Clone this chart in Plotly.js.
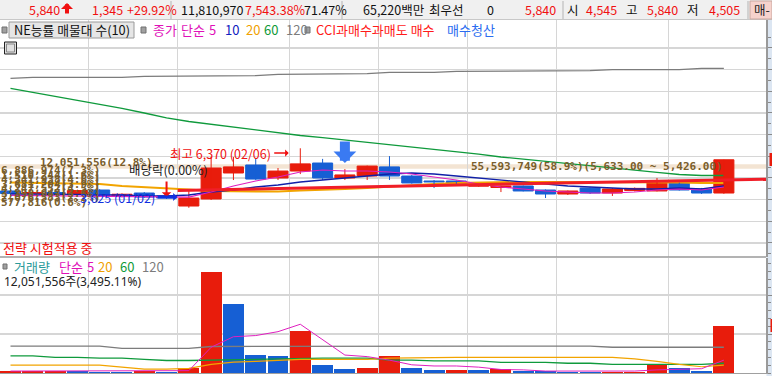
<!DOCTYPE html>
<html>
<head>
<meta charset="utf-8">
<script src="https://cdn.plot.ly/plotly-3.0.1.min.js"></script>
<style>
html,body{margin:0;padding:0;background:#ffffff;overflow:hidden;}
#chart{width:772px;height:376px;}
</style>
</head>
<body>
<div id="chart"></div>
<script>
// ---------------- data (weekly candles) ----------------
const weeks = ['2022-11-07','2022-11-14','2022-11-21','2022-11-28','2022-12-05','2022-12-12','2022-12-19','2022-12-26',
  '2023-01-02','2023-01-09','2023-01-16','2023-01-23','2023-01-30','2023-02-06','2023-02-13','2023-02-20','2023-02-27',
  '2023-03-06','2023-03-13','2023-03-20','2023-03-27','2023-04-03','2023-04-10','2023-04-17','2023-04-24',
  '2023-05-01','2023-05-08','2023-05-15','2023-05-22','2023-05-29','2023-06-05','2023-06-12','2023-06-19'];
const openP  = [4400,4280,4330,4250,4445,4170,4305,4170,3705,4030,5230,5600,5000,5320,5690,5000,5090,5510,5090,4860,4860,4620,4560,4630,4445,4260,4535,4305,4420,4400,4770,4490,4305];
const highP  = [4520,4400,4450,4460,4480,4290,4350,4200,4445,5970,5970,5880,5460,6370,5880,5410,5570,6010,5140,4905,4880,4720,4640,4650,4470,4420,4560,4535,4560,5000,4790,4540,5840];
const lowP   = [4210,4150,4200,4150,4120,4100,4075,4030,3625,3985,4905,4905,4905,5180,4905,4905,4905,4905,4740,4535,4700,4600,4350,4380,4075,4215,4260,4170,4380,4380,4420,4260,4270];
const closeP = [4280,4330,4250,4420,4170,4250,4120,4075,4075,5460,5510,4950,5320,5650,5000,5140,5550,5090,4770,4815,4720,4680,4630,4400,4260,4400,4305,4490,4520,4770,4445,4305,5840];
const volume = [500000,520000,540000,400000,350000,300000,420000,300000,1300000,25900000,17700000,4600000,4400000,10800000,
  2000000,1000000,1300000,4400000,1300000,780000,820000,760000,1000000,520000,430000,380000,330000,350000,380000,2300000,1300000,500000,12051556];

// price moving averages (5,10,20,60,120)
const ma5   = [4200,4190,4180,4170,4170,4160,4150,4140,4120,4352,4629,4860,5045,5275,5368,5321,5321,5275,5183,5045,4906,4722,4583,4491,4399,4352,4306,4306,4352,4445,4491,4445,4583];
const ma10  = [4260,4260,4250,4240,4214,4214,4168,4168,4214,4352,4445,4583,4675,4814,4906,4999,5091,5183,5229,5183,5091,4999,4906,4814,4722,4629,4583,4537,4491,4491,4537,4491,4629];
const ma20  = [4791,4768,4768,4745,4722,4629,4583,4537,4468,4399,4399,4376,4376,4422,4445,4491,4537,4606,4675,4722,4768,4791,4814,4814,4814,4814,4814,4814,4814,4814,4791,4768,4768];
const ma60  = [9138,8958,8783,8603,8418,8211,7998,7777,7606,7472,7343,7214,7080,6960,6858,6752,6646,6545,6438,6337,6222,6097,5968,5862,5755,5654,5552,5451,5359,5262,5160,5114,5114];
const ma120 = [9600,9646,9646,9646,9646,9646,9692,9692,9692,9692,9720,9720,9784,9784,9812,9812,9812,9877,9877,9877,9923,9923,9923,9950,9950,9950,9950,9997,9997,9997,9997,10061,10061];

// volume moving averages (5,20,60,120), millions of shares
const vma5   = [0.5,0.5,0.5,0.48,0.45,0.45,0.45,0.45,0.6,6.6,9.3,9.6,10.6,12.5,8.5,4.6,4.2,3.3,2.1,1.8,1.8,1.5,0.9,0.8,0.5,0.5,0.5,0.5,0.5,0.8,0.9,1.1,3.3];
const vma20  = [2.0,2.0,2.0,2.0,2.0,1.5,1.0,1.0,1.2,2.2,2.8,3.0,3.3,3.5,3.5,3.5,3.5,3.8,3.9,4.0,4.0,4.0,4.0,4.0,4.0,4.0,4.0,4.0,3.6,3.0,2.2,1.6,2.0];
const vma60  = [4.4,4.4,4.0,4.0,3.8,3.8,3.5,3.2,3.2,3.3,3.5,3.6,3.7,3.8,3.8,3.8,3.8,3.3,3.3,3.1,3.1,3.1,2.7,2.7,2.7,2.5,2.5,2.2,2.2,2.2,2.2,2.2,2.5];
const vma120 = [6.9,6.9,6.9,6.9,6.9,6.3,6.3,6.3,6.3,6.8,6.8,6.8,6.9,6.9,6.9,6.9,6.9,6.9,6.9,6.9,6.9,6.9,6.9,6.9,6.9,6.9,6.9,6.6,6.6,6.6,6.6,6.6,6.6];

// rising red line (trend)
const trendX = [7.5, 34.2];
const trendY = [4422, 4952];

// volume profile (10 bins, 3770 ~ 5840)
const profileMid    = [3873,4080,4287,4494,4701,4908,5115,5322,5529,5736];
const profileLabels = ['577,816(0.6%)','2,076,583(2.2%)','3,398,047(3.6%)','4,247,552(4.5%)','3,681,204(3.9%)',
  '4,341,938(4.6%)','1,510,244(1.6%)','6,886,974(7.3%)','55,593,749(58.9%)(5,633.00 ~ 5,426.00)','12,051,556(12.8%)'];
const profileMaxLow = 5426, profileMaxHigh = 5633;

// signals
const exDivIdx = 7, exDivLabel = '배당락(0.00%)';
const highIdx = 13, highLabel = '최고 6,370 (02/06)';
const lowIdx = 8, lowLabel = '3,625 (01/02)';
const exitIdx = [15];

// ---------------- style / layout helpers ----------------
const RED = '#e81c0c', BLUE = '#165fd4';
const W = 766, H = 353, TOP = 20, BOT = 373;
const px = x => x / W;
const py = y => (BOT - y) / H;
const n = weeks.length;
const idx = weeks.map((_, i) => i);

// month breaks -> vertical grid lines
const monthBreaks = [];
for (let i = 1; i < n; i++) if (weeks[i].slice(5,7) !== weeks[i-1].slice(5,7)) monthBreaks.push(i - 0.5);

function wicks(up) {
  const xs = [], ys = [];
  for (let i = 0; i < n; i++) {
    if ((closeP[i] >= openP[i]) === up) { xs.push(i, i, null); ys.push(lowP[i], highP[i], null); }
  }
  return {type:'scatter', mode:'lines', x:xs, y:ys, xaxis:'x', yaxis:'y', line:{color: up?RED:BLUE, width:1}, hoverinfo:'skip', showlegend:false};
}
function bodies(up) {
  const xs = [], base = [], h = [];
  for (let i = 0; i < n; i++) {
    if ((closeP[i] >= openP[i]) === up) { xs.push(i); base.push(Math.min(openP[i], closeP[i])); h.push(Math.abs(closeP[i]-openP[i])); }
  }
  const c = up?RED:BLUE;
  return {type:'bar', x:xs, y:h, base:base, width:0.9, xaxis:'x', yaxis:'y', marker:{color:c, line:{color:c, width:1}}, hoverinfo:'skip', showlegend:false};
}
function line(y, color, width, axis, scale, dash) {
  return {type:'scatter', mode:'lines', x:idx, y: scale ? y.map(v=>v*scale) : y, xaxis:'x', yaxis:axis,
    line:{color:color, width:width, dash: dash||'solid'}, hoverinfo:'skip', showlegend:false};
}
const volColors = volume.map((v,i) => (i === 0 || v >= volume[i-1]) ? RED : BLUE);

const traces = [
  line(ma120, '#7c7c7c', 1.3, 'y'),
  line(ma60, '#0f9a3c', 1.3, 'y'),
  line(ma20, '#f2a400', 2.2, 'y'),
  wicks(true), wicks(false), bodies(true), bodies(false),
  line(ma10, '#1020a8', 1.3, 'y'),
  line(ma5, '#e020c0', 1.2, 'y'),
  {type:'scatter', mode:'lines', x:trendX, y:trendY, xaxis:'x', yaxis:'y', line:{color:'#f01e28', width:3}, hoverinfo:'skip', showlegend:false, cliponaxis:true},
  {type:'bar', x:idx, y:volume, width:0.94, xaxis:'x', yaxis:'y2', marker:{color:volColors, line:{width:0}}, hoverinfo:'skip', showlegend:false},
  line(vma120, '#7c7c7c', 1.3, 'y2', 1e6),
  line(vma60, '#0f9a3c', 1.3, 'y2', 1e6),
  line(vma20, '#f2a400', 1.2, 'y2', 1e6),
  line(vma5, '#e020c0', 1.0, 'y2', 1e6),
];

const FONT = "'Noto Sans CJK KR', 'Noto Sans', sans-serif";
const WIDE = "'Noto Sans', 'Noto Sans CJK KR', sans-serif";
const MONO = "'DejaVu Sans Mono', 'Noto Sans CJK KR', monospace";
function txt(x, y, text, color, size, family, anchor) {
  return {xref:'paper', yref:'paper', x:px(x), y:py(y), text:text, showarrow:false, xanchor:anchor||'left', yanchor:'middle',
    font:{family:family||FONT, size:size||12, color:color||'#111'}, borderpad:0};
}
const OLIVE = '#7a5e2c';
const TR = '#f01010';
const ann = [];
// top info bar
ann.push(txt(28,10,'5,840',TR,12.5));
ann.push(txt(91,10,'1,345',TR,12.5));
ann.push(txt(126,10,'+29.92%',TR,12.5));
ann.push(txt(180,10,'11,810,970','#111',12.5));
ann.push(txt(244,10,'7,543.38%',TR,12.5));
ann.push(txt(303,10,'71.47%','#111',12.5));
ann.push(txt(362,10,'65,220백만','#111',12.5));
ann.push(txt(428,10,'최우선','#111',12.5));
ann.push(txt(486,10,'0','#111',12.5));
ann.push(txt(524,10,'5,840',TR,12.5));
ann.push(txt(566,10,'시','#111',12.5));
ann.push(txt(585,10,'4,545',TR,12.5));
ann.push(txt(625,10,'고','#111',12.5));
ann.push(txt(646,10,'5,840',TR,12.5));
ann.push(txt(686,10,'저','#111',12.5));
ann.push(txt(708,10,'4,505',TR,12.5));
ann.push(txt(753,10,'매-','#222',12.5));
// up arrow in top bar
ann.push({xref:'paper', yref:'paper', x:px(67), y:py(3), ax:0, ay:12, showarrow:true, arrowhead:1, arrowwidth:4, arrowsize:0.5, arrowcolor:TR, text:''});
// legend row
ann.push(txt(13,30,'NE능률 매물대 수(10)','#111',12.8));
ann.push(txt(152,30,'종가','#e010b8',13));
ann.push(txt(180,30,'단순','#e010b8',13));
ann.push(txt(208,30,'5','#e010b8',13));
ann.push(txt(224,30,'10','#1020c0',13));
ann.push(txt(245,30,'20','#f0a000',13));
ann.push(txt(263,30,'60','#109a38',13));
ann.push(txt(285,30,'120','#7c7c7c',13));
ann.push(txt(315,30,'CCI과매수과매도 매수','#ff1a1a',13));
ann.push(txt(446,30,'매수청산','#2a6cf0',13));
// volume profile labels
for (let i = 0; i < profileMid.length; i++) {
  const a = {xref:'paper', yref:'y', y:profileMid[i], text:profileLabels[i], showarrow:false, yanchor:'middle',
    font:{family:MONO, size:11, color:OLIVE, weight:'bold'}, borderpad:0};
  if (i === 8) { a.x = px(724); a.xanchor = 'right'; }
  else if (i === 9) { a.x = px(39); a.xanchor = 'left'; }
  else { a.x = px(0); a.xanchor = 'left'; }
  ann.push(a);
}
// ex-dividend
ann.push({xref:'paper', yref:'y', x:px(127), y:5380, text:exDivLabel, showarrow:false, xanchor:'left', yanchor:'middle', font:{family:FONT,size:12.5,color:'#222'}});
ann.push({xref:'x', yref:'y', x:exDivIdx, y:highP[exDivIdx]-80, ax:0, ay:-17, showarrow:true, arrowhead:1, arrowwidth:2, arrowsize:0.8, arrowcolor:TR, text:''});
// highest
ann.push({xref:'x', yref:'y', x:highIdx-0.52, y:6150, text:highLabel, showarrow:false, xanchor:'right', yanchor:'middle', xshift:-16, font:{family:FONT,size:12.5,color:TR}});
ann.push({xref:'x', yref:'y', x:highIdx-0.52, y:6150, ax:-16, ay:0, showarrow:true, arrowhead:1, arrowwidth:1.5, arrowsize:0.8, arrowcolor:TR, text:''});
// lowest
ann.push({xref:'x', yref:'y', x:lowIdx-0.52, y:4122, text:lowLabel, showarrow:false, xanchor:'right', yanchor:'middle', xshift:-20, font:{family:FONT,size:12.5,color:'#1030e0'}});
ann.push({xref:'x', yref:'y', x:lowIdx-0.52, y:4122, ax:-21, ay:0, showarrow:true, arrowhead:1, arrowwidth:3, arrowsize:0.45, arrowcolor:'#1030e0', text:''});
// exit (매수청산) signals
exitIdx.forEach(i => ann.push({xref:'x', yref:'y', x:i, y:highP[i]+280, ax:0, ay:-23, showarrow:true, arrowhead:1, arrowwidth:10, arrowsize:0.38, arrowcolor:'#3a7af2', text:''}));
// strategy label
ann.push(txt(2,247,'전략 시험적용 중',TR,13));
// volume legend
ann.push(txt(13,266,'거래량','#2a9a9a',13));
ann.push(txt(58,266,'단순','#e010b8',13));
ann.push(txt(86,266,'5','#e010b8',13));
ann.push(txt(97,266,'20','#f0a000',13));
ann.push(txt(119,266,'60','#109a38',13));
ann.push(txt(141,266,'120','#7c7c7c',13));
ann.push(txt(3,281,'12,051,556주(3,495.11%)','#222',12,WIDE));

const shapes = [
  // top bar
  {type:'rect', xref:'paper', yref:'paper', x0:0, x1:px(772), y0:py(20), y1:py(0), fillcolor:'#f0f0f0', line:{width:0}, layer:'above'},
  {type:'line', xref:'paper', yref:'paper', x0:0, x1:px(772), y0:py(19.5), y1:py(19.5), line:{color:'#c8c8c8', width:1}},
  ...[171,342,563,748].map(x => ({type:'line', xref:'paper', yref:'paper', x0:px(x), x1:px(x), y0:py(1), y1:py(19), line:{color:'#b4b4b4', width:1}})),
  {type:'rect', xref:'paper', yref:'paper', x0:px(750), x1:px(772), y0:py(19), y1:py(1), fillcolor:'#f6d2cc', line:{color:'#c8a8a0', width:1}},
  // right axis strip
  {type:'rect', xref:'paper', yref:'paper', x0:px(766.5), x1:px(772), y0:py(376), y1:py(20), fillcolor:'#dce6f2', line:{width:0}, layer:'below'},
  {type:'rect', xref:'paper', yref:'paper', x0:px(769.5), x1:px(772), y0:py(166), y1:py(153), fillcolor:'#e81c0c', line:{width:0}},
  {type:'rect', xref:'paper', yref:'paper', x0:px(770.5), x1:px(772), y0:py(332), y1:py(319), fillcolor:'#e81c0c', line:{width:0}},
  // legend boxes
  {type:'rect', xref:'paper', yref:'paper', x0:px(2), x1:px(7), y0:py(33), y1:py(27), fillcolor:'#a0a0a0', line:{color:'#707070', width:1}},
  {type:'rect', xref:'paper', yref:'paper', x0:px(9), x1:px(134), y0:py(38), y1:py(22), fillcolor:'#e6e6e6', line:{color:'#9a9a9a', width:1}},
  {type:'rect', xref:'paper', yref:'paper', x0:px(141), x1:px(146), y0:py(33), y1:py(27), fillcolor:'#a0a0a0', line:{color:'#707070', width:1}},
  {type:'rect', xref:'paper', yref:'paper', x0:px(305), x1:px(310), y0:py(33), y1:py(27), fillcolor:'#a0a0a0', line:{color:'#707070', width:1}},
  {type:'rect', xref:'paper', yref:'paper', x0:px(3), x1:px(7), y0:py(269), y1:py(264), fillcolor:'#a0a0a0', line:{color:'#707070', width:1}},
  // table icon
  {type:'rect', xref:'paper', yref:'paper', x0:px(4.5), x1:px(16.5), y0:py(54), y1:py(42), fillcolor:'#e0e0e0', line:{color:'#222', width:1}},
  {type:'rect', xref:'paper', yref:'paper', x0:px(6.5), x1:px(14.5), y0:py(52), y1:py(44), fillcolor:'rgba(0,0,0,0)', line:{color:'#888', width:1}},
  // highest-volume price band
  {type:'rect', xref:'paper', yref:'y', x0:0, x1:1, y0:profileMaxLow, y1:profileMaxHigh, fillcolor:'rgba(236,214,188,0.65)', line:{width:0}, layer:'below'},
  // separator
  {type:'line', xref:'paper', yref:'paper', x0:0, x1:px(766), y0:py(257), y1:py(257), line:{color:'#9a9a9a', width:1.5}},
];

const main0 = 2000, main1 = 11000;
const mainTicks = []; for (let v = main0; v <= main1; v += 1000) mainTicks.push(v);
const mainMinor = []; for (let v = main0 - 500; v <= main1 + 500; v += 500) mainMinor.push(v);

const layout = {
  width:772, height:376, margin:{l:0, r:6, t:TOP, b:3},
  paper_bgcolor:'#ffffff', plot_bgcolor:'#ffffff',
  showlegend:false, barmode:'overlay', bargap:0,
  font:{family:FONT},
  xaxis:{range:[-0.471, 33.89], tickmode:'array', tickvals:monthBreaks, showticklabels:false, ticks:'',
    showgrid:true, gridcolor:'#d6d6d6', gridwidth:1.2, zeroline:false, anchor:'y2', showline:true, linecolor:'#a0a0a0', linewidth:1, fixedrange:true},
  yaxis:{domain:[py(257), 1], range:[1353, 12290], tickmode:'array', tickvals:mainTicks, showticklabels:false,
    side:'right', ticks:'outside', ticklen:4, tickcolor:'#8a8a8a',
    minor:{tickmode:'array', tickvals:mainMinor, ticks:'outside', ticklen:3, tickcolor:'#8a8a8a', showgrid:false},
    showgrid:true, gridcolor:'#d6d6d6', gridwidth:1.2, zeroline:false, showline:true, linecolor:'#9a9a9a', linewidth:1.5, fixedrange:true},
  yaxis2:{domain:[0, py(258)], range:[0, 29.49e6], tickmode:'array', tickvals:[10e6, 20e6], showticklabels:false,
    side:'right', ticks:'outside', ticklen:4, tickcolor:'#8a8a8a',
    minor:{dtick:2e6, ticks:'outside', ticklen:3, tickcolor:'#8a8a8a', showgrid:false},
    showgrid:true, gridcolor:'#d6d6d6', gridwidth:1.2, zeroline:false, showline:true, linecolor:'#9a9a9a', linewidth:1.5, fixedrange:true},
  shapes:shapes,
  annotations:ann,
};

Plotly.newPlot('chart', traces, layout, {displayModeBar:false, staticPlot:true});
</script>
</body>
</html>
